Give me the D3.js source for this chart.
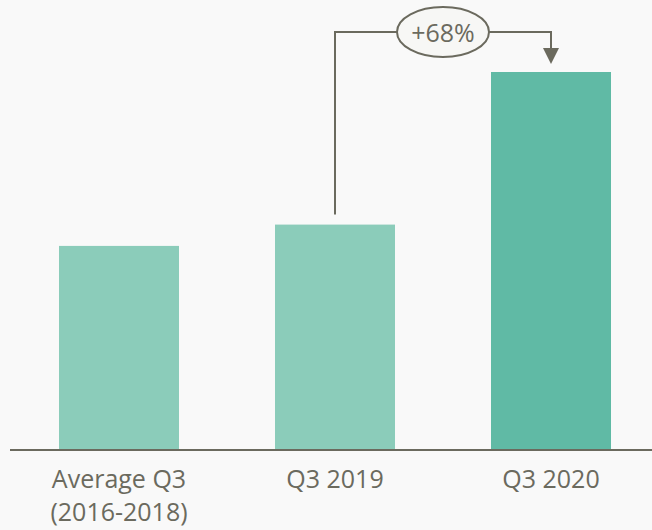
<!DOCTYPE html>
<html>
<head>
<meta charset="utf-8">
<script src="https://cdn.jsdelivr.net/npm/d3@7"></script>
<style>
  body { margin: 0; background: #f9f9f9; }
  svg { display: block; font-family: "Open Sans", sans-serif; }
</style>
</head>
<body>
<svg id="chart"></svg>
<script>
// index values (Q3 2019 = 100)
const categories = ["Average Q3\n(2016-2018)", "Q3 2019", "Q3 2020"];
const values = [90.5, 100, 168];
const colors = ["#8bccba", "#8bccba", "#60baa5"];
const changeLabel = "+68%";

const width = 652, height = 530;
const ink = "#6b6a5e";

const svg = d3.select("#chart")
    .attr("width", width)
    .attr("height", height);

const x = d3.scaleBand()
    .domain(categories)
    .range([11, 659])
    .paddingInner(0.4444)
    .paddingOuter(0.2222);

const y = d3.scaleLinear()
    .domain([0, d3.max(values)])
    .range([449, 72]);

// bars
svg.append("g")
    .selectAll("rect")
    .data(values)
    .join("rect")
    .attr("x", (d, i) => x(categories[i]))
    .attr("y", d => y(d))
    .attr("width", x.bandwidth())
    .attr("height", d => y(0) - y(d))
    .attr("fill", (d, i) => colors[i]);

// baseline
svg.append("line")
    .attr("x1", 10).attr("x2", width)
    .attr("y1", y(0) + 1).attr("y2", y(0) + 1)
    .attr("stroke", ink)
    .attr("stroke-width", 2);

// category labels
const labels = svg.append("g")
    .selectAll("text")
    .data(categories)
    .join("text")
    .attr("text-anchor", "middle")
    .attr("fill", ink)
    .style("font-size", "25px");

labels.selectAll("tspan")
    .data(d => d.split("\n").map(t => ({ t, c: d })))
    .join("tspan")
    .attr("x", d => x(d.c) + x.bandwidth() / 2)
    .attr("y", (d, i) => 488 + i * 33)
    .text(d => d.t);

// change annotation
const x0 = x(categories[1]) + x.bandwidth() / 2;
const x1 = x(categories[2]) + x.bandwidth() / 2;
const topY = 32;

svg.append("path")
    .attr("d", `M${x0},${y(values[1]) - 10} V${topY} H${x1} V${y(values[2]) - 20}`)
    .attr("fill", "none")
    .attr("stroke", ink)
    .attr("stroke-width", 2);

svg.append("path")
    .attr("d", `M${x1 - 8},${y(values[2]) - 24} L${x1 + 8},${y(values[2]) - 24} L${x1},${y(values[2]) - 8} Z`)
    .attr("fill", ink);

const cx = (x0 + x1) / 2;
svg.append("ellipse")
    .attr("cx", cx).attr("cy", topY)
    .attr("rx", 46).attr("ry", 25)
    .attr("fill", "#f7f7f5")
    .attr("stroke", ink)
    .attr("stroke-width", 2);

svg.append("text")
    .attr("x", cx).attr("y", topY + 10)
    .attr("text-anchor", "middle")
    .attr("fill", ink)
    .style("font-size", "25px")
    .text(changeLabel);
</script>
</body>
</html>
